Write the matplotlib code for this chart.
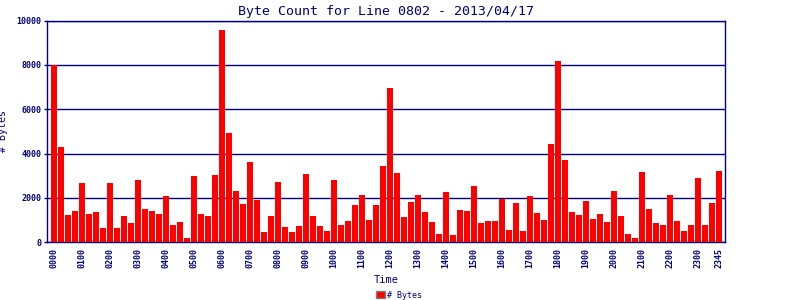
import numpy as np
import matplotlib
matplotlib.use('Agg')
import matplotlib.pyplot as plt
from matplotlib.patches import Patch

# Byte counts per 15-minute interval.
byte_counts = [8000, 4300, 1230, 1410, 2670, 1280, 1370, 650,
               2670, 650, 1190, 870, 2810, 1500, 1410, 1280,
               2090, 780, 920, 200, 2990, 1280, 1190, 3030,
               9560, 4930, 2310, 1730, 3620, 1910, 470, 1190,
               2720, 690, 470, 740, 3080, 1190, 740, 510,
               2810, 780, 960, 1680, 2130, 1000, 1680, 3440,
               6960, 3120, 1130, 1800, 2120, 1350, 900, 360,
               2260, 320, 1440, 1400, 2530, 860, 950, 950,
               1950, 540, 1760, 500, 2080, 1310, 990, 4420,
               8170, 3700, 1350, 1220, 1850, 1040, 1260, 900,
               2300, 1170, 360, 180, 3160, 1490, 860, 770,
               2120, 950, 500, 770, 2890, 770, 1760, 3200]
times = ['{:02d}{:02d}'.format(h, m) for h in range(24) for m in (0, 15, 30, 45)]
tick_idx = list(range(0, 96, 4)) + [95]
y_ticks = [0, 2000, 4000, 6000, 8000, 10000]

navy = '#000080'
mono = 'DejaVu Sans Mono'

fig = plt.figure(figsize=(8, 3), dpi=100)
ax = fig.add_axes([47/800, 1 - 242.3/300, 678/800, 221.8/300])

x = np.arange(len(byte_counts))
ax.bar(x, byte_counts, width=6/7, color='#ff0000', zorder=3)

ax.set_xlim(-1, 95.86)
ax.set_ylim(0, 10000)
ax.set_yticks(y_ticks)
ax.set_yticklabels([str(v) for v in y_ticks], fontfamily=mono,
                   fontweight='bold', fontsize=6, color=navy)
ax.set_xticks(tick_idx)
ax.set_xticklabels([times[i] for i in tick_idx], rotation=90,
                   fontfamily=mono, fontweight='bold', fontsize=6, color=navy)
ax.tick_params(axis='y', length=2, width=1, color=navy, pad=2)
ax.tick_params(axis='x', length=0, pad=4)

ax.grid(axis='y', color=navy, linewidth=1, zorder=1)
for s in ax.spines.values():
    s.set_color(navy)
    s.set_linewidth(1.0)

ax.set_title('Byte Count for Line 0802 - 2013/04/17', fontfamily=mono,
             fontsize=9.5, color=navy, pad=4)
ax.set_xlabel('Time', fontfamily=mono, fontsize=7.5, color=navy, labelpad=5)
ax.set_ylabel('# Bytes', fontfamily=mono, fontsize=7.2, color=navy)
ax.yaxis.set_label_coords((8.5 - 47) / 678, 0.5)

fig.legend(handles=[Patch(facecolor='#ff0000', edgecolor='#808080',
                          label='# Bytes')],
           loc='center', bbox_to_anchor=(399/800, 1 - 295/300), frameon=False,
           prop={'family': mono, 'size': 6}, labelcolor=navy,
           handlelength=1.1, handleheight=0.8, handletextpad=0.3)

plt.savefig('out.png', dpi=100)
